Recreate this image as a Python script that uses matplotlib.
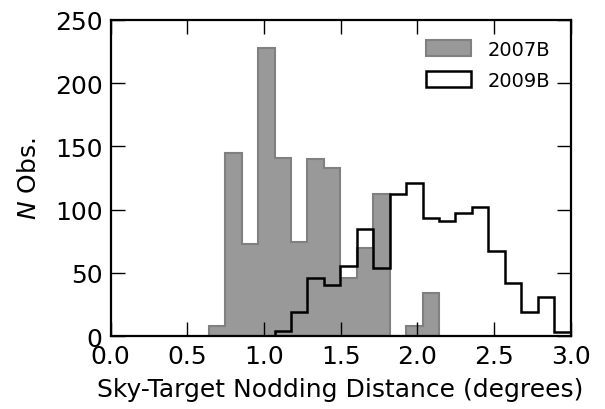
import numpy as np
import matplotlib
matplotlib.use("Agg")
import matplotlib.pyplot as plt
from matplotlib.patches import Patch

# Shared binning for both semesters (degrees)
bin_start = 0.64
bin_width = 0.1073

# 2007B: counts for 14 bins starting at bin_start
counts_2007b = [8, 145, 73, 228, 141, 74, 140, 133, 46, 70, 112, 0, 8, 34]
# 2009B: counts for bins starting 4 bins later
offset_2009b = 4
counts_2009b = [4, 19, 46, 40, 55, 85, 54, 112, 121, 93, 91, 97, 102, 67, 42, 19, 31, 3, 12]

xticks = [0.0, 0.5, 1.0, 1.5, 2.0, 2.5, 3.0]
yticks = [0, 50, 100, 150, 200, 250]

plt.rcParams["font.family"] = "DejaVu Sans"

fig = plt.figure(figsize=(6.05, 4.10), dpi=100)
ax = fig.add_axes([0.183, 0.178, 0.760, 0.771])

edges_a = bin_start + bin_width * np.arange(len(counts_2007b) + 1)
centers_a = 0.5 * (edges_a[:-1] + edges_a[1:])
edges_b = bin_start + bin_width * (offset_2009b + np.arange(len(counts_2009b) + 1))
centers_b = 0.5 * (edges_b[:-1] + edges_b[1:])

ax.hist(centers_a, bins=edges_a, weights=counts_2007b, histtype="stepfilled",
        facecolor="#999999", edgecolor="#808080", linewidth=1.5, label="2007B")
ax.hist(centers_b, bins=edges_b, weights=counts_2009b, histtype="step",
        color="black", linewidth=1.8, label="2009B")

ax.set_xlim(0, 3.0)
ax.set_ylim(0, 250)
ax.set_xticks(xticks)
ax.set_yticks(yticks)
ax.set_xticklabels([f"{t:.1f}" for t in xticks])
ax.tick_params(direction="in", top=True, right=True, length=10, width=1,
               labelsize=18, pad=6)
for s in ax.spines.values():
    s.set_linewidth(1.6)

ax.set_xlabel("Sky-Target Nodding Distance (degrees)", fontsize=18, labelpad=6)
ax.set_ylabel("$N$ Obs.", fontsize=18, labelpad=10)

handles = [Patch(facecolor="#999999", edgecolor="#808080", linewidth=1.5, label="2007B"),
           Patch(facecolor="white", edgecolor="black", linewidth=1.8, label="2009B")]
ax.legend(handles=handles, loc="upper right", frameon=False, fontsize=14,
          handlelength=2.27, handleheight=0.87, handletextpad=0.9,
          labelspacing=0.62, borderaxespad=0.62)

fig.savefig("out.png", dpi=100)
